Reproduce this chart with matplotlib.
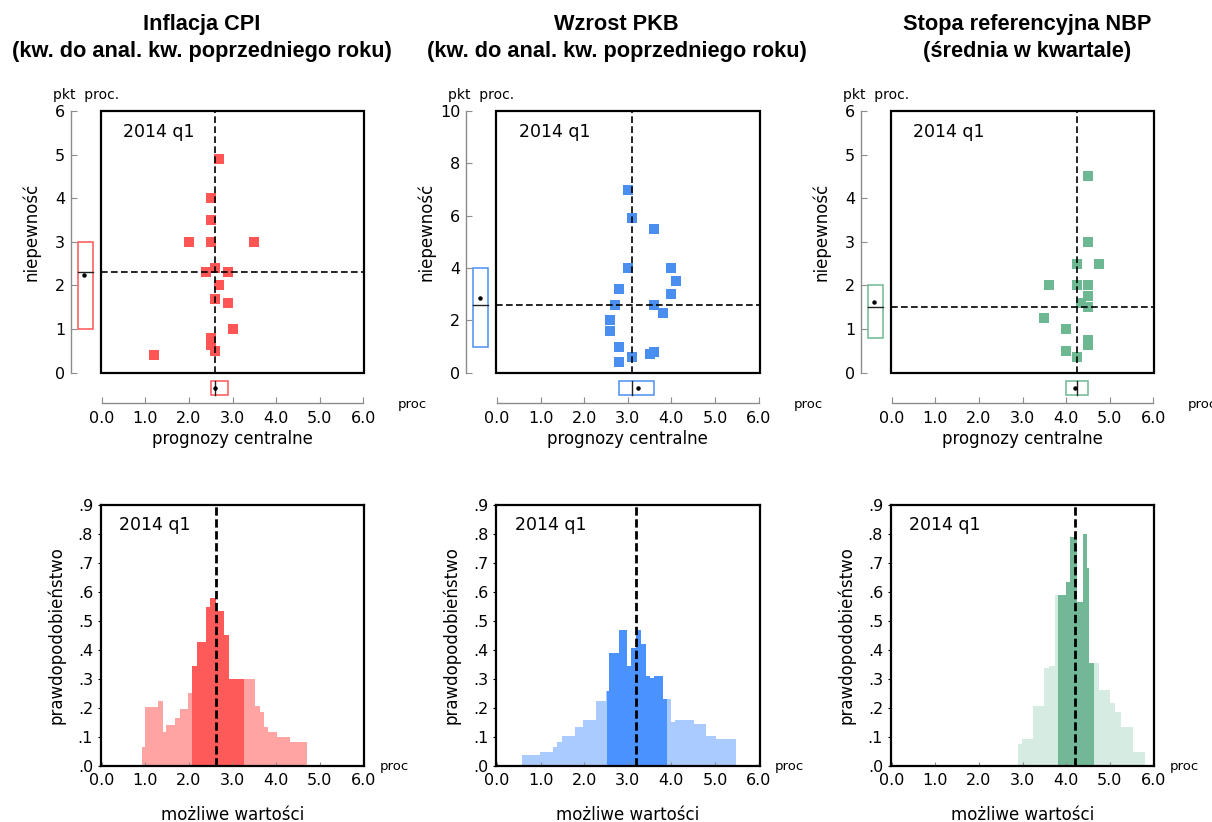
import matplotlib as mpl
mpl.use('agg')
import matplotlib.pyplot as plt
from matplotlib.patches import Rectangle
import numpy as np

# ---- data (2014 q1 survey) ----
titles = [('Inflacja CPI', '(kw. do anal. kw. poprzedniego roku)'),
          ('Wzrost PKB', '(kw. do anal. kw. poprzedniego roku)'),
          ('Stopa referencyjna NBP', '(średnia w kwartale)')]
period_label = '2014 q1'

# central forecasts (x) and uncertainty (y) of single forecasters
cpi_central = [2.7, 2.5, 2.5, 2.0, 2.5, 3.5, 2.6, 2.4, 2.9, 2.7, 2.6, 2.9, 3.0, 2.5, 2.5, 2.6, 1.2]
cpi_uncert = [4.9, 4.0, 3.5, 3.0, 3.0, 3.0, 2.4, 2.3, 2.3, 2.0, 1.7, 1.6, 1.0, 0.8, 0.63, 0.5, 0.4]
gdp_central = [3.0, 3.1, 3.6, 3.0, 4.0, 4.1, 2.8, 4.0, 2.7, 3.6, 3.8, 2.6, 2.6, 2.8, 3.1, 3.5, 3.6, 2.8]
gdp_uncert = [7.0, 5.9, 5.5, 4.0, 4.0, 3.5, 3.2, 3.0, 2.6, 2.6, 2.3, 2.0, 1.6, 1.0, 0.6, 0.7, 0.8, 0.4]
rate_central = [4.5, 4.5, 4.25, 4.75, 3.6, 4.25, 4.5, 4.5, 4.35, 4.5, 3.5, 4.0, 4.5, 4.5, 4.0, 4.25]
rate_uncert = [4.5, 3.0, 2.5, 2.5, 2.0, 2.0, 2.0, 1.75, 1.6, 1.5, 1.25, 1.0, 0.75, 0.63, 0.5, 0.35]

# median lines of the scatter (central forecast, uncertainty)
median_central = [2.6, 3.1, 4.25]
median_uncert = [2.3, 2.6, 1.5]

# box summaries: (low, median, high, mean)
uncert_box = [(1.0, 2.3, 3.0, 2.23), (1.0, 2.6, 4.0, 2.84), (0.8, 1.5, 2.0, 1.61)]
central_box = [(2.5, 2.6, 2.9, 2.6), (2.8, 3.1, 3.6, 3.24), (4.0, 4.25, 4.5, 4.21)]
uncert_max = [6, 10, 6]
uncert_step = [1, 2, 1]

# aggregated probability distributions (step edges and heights)
cpi_edges = [0.92, 0.99, 1.29, 1.41, 1.475, 1.69, 1.80, 1.99, 2.07, 2.19, 2.40, 2.49,
             2.62, 2.81, 2.92, 3.26, 3.52, 3.62, 3.72, 3.81, 4.01, 4.32, 4.70]
cpi_prob = [0.067, 0.203, 0.224, 0.117, 0.141, 0.166, 0.195, 0.251, 0.344, 0.427, 0.546,
            0.579, 0.534, 0.451, 0.298, 0.298, 0.207, 0.187, 0.135, 0.117, 0.100, 0.084]
gdp_edges = [0.57, 0.985, 1.28, 1.38, 1.50, 1.79, 1.98, 2.27, 2.49, 2.52, 2.57, 2.79, 2.99,
             3.08, 3.19, 3.30, 3.41, 3.51, 3.59, 3.81, 3.91, 4.00, 4.09, 4.51, 4.80, 5.02, 5.49]
gdp_prob = [0.037, 0.048, 0.065, 0.081, 0.103, 0.134, 0.157, 0.224, 0.258, 0.258, 0.388,
            0.467, 0.344, 0.407, 0.470, 0.420, 0.310, 0.304, 0.310, 0.231, 0.231, 0.153,
            0.158, 0.145, 0.103, 0.092]
rate_edges = [2.89, 2.99, 3.23, 3.49, 3.60, 3.75, 3.81, 3.99, 4.08, 4.26, 4.38, 4.47, 4.52,
              4.63, 4.76, 5.01, 5.12, 5.26, 5.53, 5.82]
rate_prob = [0.076, 0.093, 0.207, 0.339, 0.343, 0.588, 0.588, 0.634, 0.788, 0.566, 0.800,
             0.682, 0.355, 0.355, 0.262, 0.218, 0.185, 0.134, 0.049]
central_band = [(2.07, 3.26), (2.52, 3.91), (3.81, 4.63)]
dist_mean = [2.62, 3.18, 4.20]

x_ticks = [0, 1, 2, 3, 4, 5, 6]
x_ticklabels = ['0.0', '1.0', '2.0', '3.0', '4.0', '5.0', '6.0']
p_ticks = [0, .1, .2, .3, .4, .5, .6, .7, .8, .9]
p_ticklabels = ['.0', '.1', '.2', '.3', '.4', '.5', '.6', '.7', '.8', '.9']

# colours: scatter / box, light histogram, dark histogram
colors = [('#ff5555', '#ffa3a3', '#ff5a5a'),
          ('#4a8ff0', '#a9cbff', '#4a92ff'),
          ('#6db892', '#d6ebe2', '#72b896')]

plt.rcParams['font.family'] = ['DejaVu Sans']
GRAY = '#8c8c8c'
XLIM = (-0.023, 6.023)
title_x = [201.5, 616.5, 1027]


def do_scatter(ax, xs, ys, i):
    """Central forecast vs uncertainty, with marginal boxes."""
    col = colors[i][0]
    ymax = uncert_max[i]
    ax.set_xlim(*XLIM)
    ax.set_ylim(0, ymax)
    for s in ('top', 'right'):
        ax.spines[s].set_visible(False)
    for s in ('left', 'bottom'):
        ax.spines[s].set_position(('outward', 21.6))
        ax.spines[s].set_color(GRAY)
        ax.spines[s].set_linewidth(1)
    ax.spines['left'].set_bounds(0, ymax)
    ax.spines['bottom'].set_bounds(0, 6)
    ax.set_xticks(x_ticks)
    ax.set_xticklabels(x_ticklabels)
    ax.set_yticks(np.arange(0, ymax + 1, uncert_step[i]))
    ax.tick_params(direction='in', length=4, color=GRAY, labelsize=11.5)
    ax.tick_params(axis='x', pad=6)
    ax.tick_params(axis='y', pad=4)
    ax.add_patch(Rectangle((0, 0), 1, 1, transform=ax.transAxes, fill=False,
                           lw=1.6, ec='black', clip_on=False, zorder=5))
    ax.scatter(xs, ys, marker='s', s=42, c=col, linewidths=0, zorder=3)
    ax.axvline(median_central[i], color='k', lw=1.2, ls=(0, (4, 2)), zorder=4)
    ax.axhline(median_uncert[i], color='k', lw=1.2, ls=(0, (4, 2)), zorder=4)
    # uncertainty box to the left of the frame
    lo, med, hi, mean = uncert_box[i]
    ax.add_patch(Rectangle((-0.55, lo), 0.34, hi - lo, fill=False, ec=col, lw=1.1,
                           clip_on=False))
    ax.plot([-0.55, -0.21], [med, med], color='#222222', lw=1, clip_on=False)
    ax.plot([-0.40], [mean], 'o', color='k', ms=2.2, clip_on=False)
    # central forecast box below the frame
    lo, med, hi, mean = central_box[i]
    y0, y1 = -0.085 * ymax, -0.032 * ymax
    ax.add_patch(Rectangle((lo, y0), hi - lo, y1 - y0, fill=False, ec=col, lw=1.1,
                           clip_on=False))
    ax.plot([med, med], [y0, y1], color='#222222', lw=1, clip_on=False)
    ax.plot([mean], [(y0 + y1) / 2], 'o', color='k', ms=2.2, clip_on=False)
    ax.text(0.086, 0.921, period_label, transform=ax.transAxes, fontsize=12.5, va='center')
    ax.text(-0.182, 1.061, 'pkt  proc.', transform=ax.transAxes, fontsize=10, va='center')
    ax.text(1.128, -0.123, 'proc', transform=ax.transAxes, fontsize=9.5, va='center')
    ax.set_ylabel('niepewność', fontsize=12, va='center')
    ax.yaxis.set_label_coords(-0.265, 0.54)
    ax.set_xlabel('prognozy centralne', fontsize=12, va='center')
    ax.xaxis.set_label_coords(0.5, -0.253)


def do_hist(ax, edges, prob, i):
    """Aggregated probability distribution with the central band darker."""
    edges = np.asarray(edges)
    left = edges[:-1]
    lo, hi = central_band[i]
    inside = (left >= lo - 1e-9) & (left < hi - 1e-9)
    bar_cols = [colors[i][2] if b else colors[i][1] for b in inside]
    ax.bar(left, prob, width=np.diff(edges), align='edge', color=bar_cols, linewidth=0)
    ax.axvline(dist_mean[i], color='k', lw=2, ls=(0, (3, 1.3)))
    ax.set_xlim(*XLIM)
    ax.set_ylim(0, 0.9)
    for s in ax.spines.values():
        s.set_linewidth(1.6)
    ax.set_xticks(x_ticks)
    ax.set_xticklabels(x_ticklabels)
    ax.set_yticks(p_ticks)
    ax.set_yticklabels(p_ticklabels)
    ax.tick_params(axis='x', direction='in', length=3, labelsize=11.5, pad=5, color=GRAY)
    ax.tick_params(axis='y', direction='out', length=2.5, labelsize=11.5, pad=3)
    ax.text(0.071, 0.922, period_label, transform=ax.transAxes, fontsize=12.5, va='center')
    ax.text(1.058, 0.0, 'proc', transform=ax.transAxes, fontsize=9.5, va='center')
    ax.set_ylabel('prawdopodobieństwo', fontsize=12, va='center')
    ax.yaxis.set_label_coords(-0.17, 0.5)
    ax.set_xlabel('możliwe wartości', fontsize=12, va='baseline')
    ax.xaxis.set_label_coords(0.5, -0.205)


fig = plt.figure(figsize=(12.12, 8.22), dpi=100)
W, H = 1212., 822.
lefts = [100.7, 496., 890.7]
scatter_data = [(cpi_central, cpi_uncert), (gdp_central, gdp_uncert), (rate_central, rate_uncert)]
hist_data = [(cpi_edges, cpi_prob), (gdp_edges, gdp_prob), (rate_edges, rate_prob)]

for i in range(3):
    ax_top = fig.add_axes([lefts[i] / W, 1 - 372.7 / H, 263.6 / W, 261.7 / H])
    do_scatter(ax_top, scatter_data[i][0], scatter_data[i][1], i)
    ax_bot = fig.add_axes([lefts[i] / W, 1 - 766. / H, 263.6 / W, 261.3 / H])
    do_hist(ax_bot, hist_data[i][0], hist_data[i][1], i)
    for line, ybase in zip(titles[i], (30., 56.7)):
        fig.text(title_x[i] / W, 1 - ybase / H, line, ha='center', va='baseline',
                 fontsize=15.7, fontweight='bold', family=['Liberation Sans'])

fig.savefig('out.png', dpi=100)
